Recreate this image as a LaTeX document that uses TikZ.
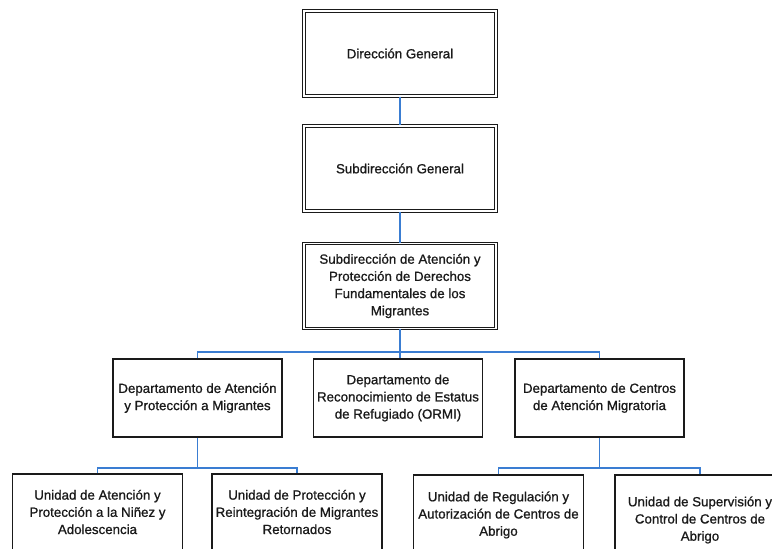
\documentclass[tikz,border=0pt]{standalone}
\usepackage{fontspec}
\setmainfont[FakeBold=1.2]{Liberation Sans}
\newfontfamily\boxfont[FakeBold=0.9]{Liberation Sans}
\definecolor{link}{HTML}{3A7DD2}
\definecolor{ink}{HTML}{1A1A1A}
\begin{document}
\begin{tikzpicture}[x=1pt,y=-1pt,
  txt/.style={font=\boxfont\fontsize{13.3}{17.2}\selectfont, text=ink, align=center, inner sep=0pt},
  topbox/.style={txt, draw=ink, line width=1.1pt, double=white, double distance=1.3pt,
    minimum width=192pt, minimum height=85pt},
  deptbox/.style={txt, draw=ink, line width=1.2pt, minimum width=169pt, minimum height=78pt},
  unitbox/.style={txt, draw=ink, line width=1.2pt, minimum width=170pt},
  conn/.style={draw=link, line width=1.2pt}]
\useasboundingbox (0,0) rectangle (772,549);
\clip (0,0) rectangle (772,549);
\fill[white] (0,0) rectangle (772,549);

% upper chain
\node[topbox] (dg) at (400,53.5) {Dirección General};
\node[topbox] (sg) at (400,168.5) {Subdirección General};
\node[topbox] (sa) at (400,286) {Subdirección de Atención y\\Protección de Derechos\\Fundamentales de los\\Migrantes};

% departments
\node[deptbox] (d1) at (197.5,398) {Departamento de Atención\\y Protección a Migrantes};
\node[deptbox] (d2) at (398,398) {Departamento de\\Reconocimiento de Estatus\\de Refugiado (ORMI)};
\node[deptbox] (d3) at (599.5,398) {Departamento de Centros\\de Atención Migratoria};

% units
\node[unitbox, minimum height=76pt] (u1) at (97.5,512) {Unidad de Atención y\\Protección a la Niñez y\\Adolescencia};
\node[unitbox, minimum height=76pt] (u2) at (297,512) {Unidad de Protección y\\Reintegración de Migrantes\\Retornados};
\node[unitbox, minimum height=80pt] (u3) at (498.5,515) {Unidad de Regulación y\\Autorización de Centros de\\Abrigo};
\node[unitbox, minimum height=90pt] (u4) at (700,520) {Unidad de Supervisión y\\Control de Centros de\\Abrigo};

% connectors
\coordinate (b0) at (400,352);
\coordinate (b1) at (197.5,468);
\coordinate (b3) at (599.5,468);
\draw[conn] (dg.south) -- (sg.north);
\draw[conn] (sg.south) -- (sa.north);
\draw[conn] (sa.south) -- (b0);
\draw[conn] (d1.north) |- (b0) -| (d3.north);
\draw[conn] (b0) -- (d2.north -| b0);
\draw[conn] (d1.south) -- (b1);
\draw[conn] (u1.north) |- (b1) -| (u2.north);
\draw[conn] (d3.south) -- (b3);
\draw[conn] (u3.north) |- (b3) -| (u4.north);
\end{tikzpicture}
\end{document}
